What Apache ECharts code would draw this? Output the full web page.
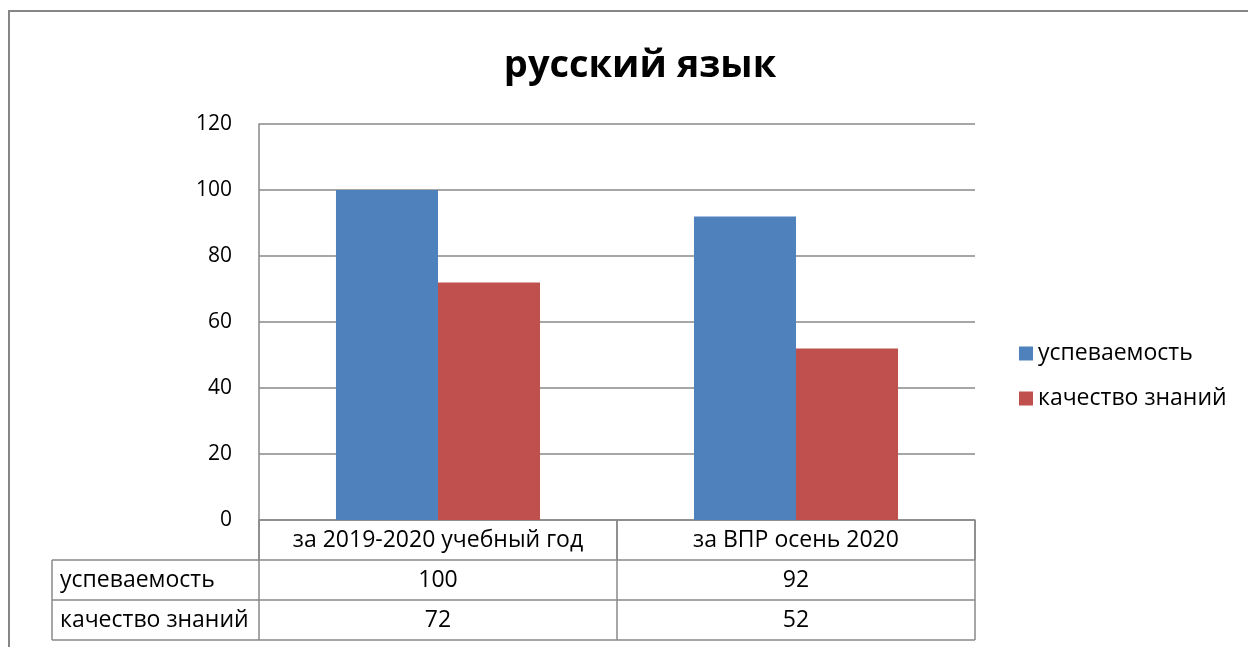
<!DOCTYPE html>
<html>
<head>
<meta charset="utf-8">
<script src="https://cdn.jsdelivr.net/npm/echarts@6/dist/echarts.min.js"></script>
<style>
  html, body { margin: 0; padding: 0; background: #fff; }
  #main { width: 1248px; height: 647px; }
</style>
</head>
<body>
<div id="main"></div>
<script>
// данные диаграммы
var titleText = 'русский язык';
var categories = ['за 2019-2020 учебный год', 'за ВПР осень 2020'];
var seriesNames = ['успеваемость', 'качество знаний'];
var uspev = [100, 92];
var kachestvo = [72, 52];
var colors = ['#4F81BD', '#C0504D'];

var FONT = 'Open Sans';
var gridL = 259, gridR = 975, gridT = 124, gridB = 520;
var rowH = 40, leftCol = 52;

var chart = echarts.init(document.getElementById('main'));

var option = {
  animation: false,
  color: colors,
  title: {
    text: titleText,
    left: 635,
    textAlign: 'center',
    top: 42,
    textStyle: { fontFamily: FONT, fontWeight: 'bold', fontSize: 38, color: '#000' }
  },
  legend: {
    orient: 'vertical',
    left: 1014,
    top: 337,
    itemWidth: 14,
    itemHeight: 14,
    itemGap: 22,
    icon: 'rect',
    textStyle: { fontFamily: FONT, fontSize: 23, color: '#000' },
    data: seriesNames
  },
  grid: { left: gridL, right: 1248 - gridR, top: gridT, bottom: 647 - gridB },
  xAxis: {
    type: 'category',
    data: categories,
    axisLine: { show: true, lineStyle: { color: '#898989', width: 1.5 } },
    axisTick: { show: true, interval: 0, length: rowH, lineStyle: { color: '#898989', width: 1.5 } },
    axisLabel: { interval: 0, hideOverlap: false, fontFamily: FONT, fontSize: 23, color: '#000', margin: 9 }
  },
  yAxis: {
    type: 'value',
    min: 0,
    max: 120,
    interval: 20,
    axisLine: { show: true, lineStyle: { color: '#898989', width: 1.5 } },
    axisTick: { show: false },
    axisLabel: { fontFamily: FONT, fontSize: 21, color: '#000', margin: 27 },
    splitLine: { lineStyle: { color: '#898989', width: 1.5 } }
  },
  series: [
    { name: seriesNames[0], type: 'bar', data: uspev, barGap: '0%', barCategoryGap: '43%' },
    { name: seriesNames[1], type: 'bar', data: kachestvo, barGap: '0%', barCategoryGap: '43%' }
  ]
};
chart.setOption(option);

// таблица данных под осью
var lineStyle = { stroke: '#898989', lineWidth: 1.5 };
var g = [];
g.push({ type: 'rect', shape: { x: 9, y: 11, width: 1400, height: 800 },
  style: { fill: 'none', stroke: '#868686', lineWidth: 2 }, silent: true });
var rows = [uspev, kachestvo];
var y0 = gridB + rowH;
for (var r = 0; r <= rows.length; r++) {
  g.push({ type: 'line', shape: { x1: leftCol, y1: y0 + r * rowH, x2: gridR, y2: y0 + r * rowH }, style: lineStyle });
}
g.push({ type: 'line', shape: { x1: leftCol, y1: y0, x2: leftCol, y2: y0 + rows.length * rowH }, style: lineStyle });
var bounds = [gridL];
var catW = (gridR - gridL) / categories.length;
for (var c = 1; c <= categories.length; c++) bounds.push(gridL + c * catW);
bounds.forEach(function (x) {
  g.push({ type: 'line', shape: { x1: x, y1: gridB, x2: x, y2: y0 + rows.length * rowH }, style: lineStyle });
});
rows.forEach(function (vals, r) {
  var cy = y0 + r * rowH + rowH / 2;
  g.push({ type: 'text', x: leftCol + 8, y: cy,
    style: { text: seriesNames[r], fontFamily: FONT, fontSize: 23, fill: '#000', verticalAlign: 'middle' } });
  vals.forEach(function (v, c) {
    var cx = chart.convertToPixel({ xAxisIndex: 0 }, c);
    g.push({ type: 'text', x: cx, y: cy,
      style: { text: String(v), fontFamily: FONT, fontSize: 23, fill: '#000', align: 'center', verticalAlign: 'middle' } });
  });
});
chart.setOption({ graphic: g });
</script>
</body>
</html>
